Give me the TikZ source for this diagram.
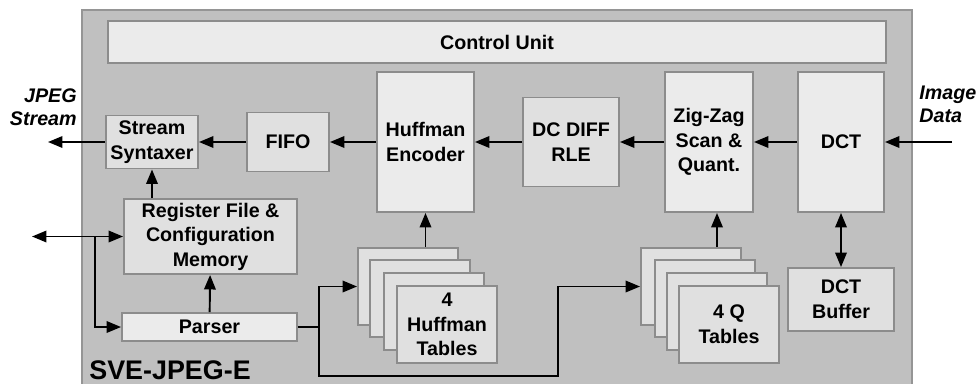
\documentclass[tikz,border=0pt]{standalone}
\usepackage{fontspec}
\setmainfont{Liberation Sans}
\usetikzlibrary{arrows.meta}

\definecolor{chipfill}{HTML}{C0C0C0}
\definecolor{chipline}{HTML}{959595}
\definecolor{boxfill}{HTML}{E0E0E0}
\definecolor{boxlite}{HTML}{EBEBEB}
\definecolor{boxline}{HTML}{8C8C8C}

\begin{document}
\begin{tikzpicture}[x=0.02cm, y=-0.02cm, >={Triangle[length=0.29cm,width=0.23cm]},
  font=\fontsize{11.2}{14}\selectfont\bfseries]

\tikzstyle blk=[draw=boxline, line width=1.1pt, fill=boxfill, align=center, inner sep=0pt]
\tikzstyle lite=[blk, fill=boxlite]
\tikzstyle sig=[line width=1.1pt, ->]
\tikzstyle tab=[blk, minimum width=2cm, minimum height=1.54cm]

\useasboundingbox (0,0) rectangle (979,383);
\draw [draw=chipline, fill=chipfill, line width=1.2pt] (82,10) rectangle (912,400);

\node (ctrl) [lite, minimum width=15.56cm, minimum height=0.84cm] at (497,42) {Control Unit};

\node (syn) [blk, minimum width=1.84cm, minimum height=1.06cm] at (152,142) {Stream\\Syntaxer};
\node (fifo) [blk, minimum width=1.64cm, minimum height=1.18cm] at (288,142) {FIFO};
\node (henc) [lite, minimum width=1.94cm, minimum height=2.8cm] at (425.5,142) {Huffman\\Encoder};
\node (rle) [blk, minimum width=1.92cm, minimum height=1.78cm] at (571,142) {DC DIFF\\RLE};
\node (zz) [lite, minimum width=1.76cm, minimum height=2.8cm] at (709,142) {Zig-Zag\\Scan \&\\Quant.};
\node (dct) [lite, minimum width=1.72cm, minimum height=2.8cm] at (841,142) {DCT};
\node (dctbuf) [blk, minimum width=2.12cm, minimum height=1.26cm] at (841,299.5) {DCT\\Buffer};

\node (reg) [blk, minimum width=3.46cm, minimum height=1.5cm] at (210.5,236.5) {Register File \&\\Configuration\\Memory};
\node (parser) [lite, minimum width=3.5cm, minimum height=0.56cm] at (209.5,327) {Parser};

\foreach \i/\x/\y in {1/408/286.5, 2/420/298.5, 3/434/311.5, 4/447/324.5}
  \node (h\i) [tab] at (\x,\y) {};
\node (htxt) [align=center] at (h4) {4\\Huffman\\Tables};

\foreach \i/\x/\y in {1/691/286.5, 2/705/298.5, 3/717/311.5, 4/729/324.5}
  \node (q\i) [tab] at (\x,\y) {};
\node (qtxt) [align=center] at (q4) {4 Q\\Tables};

\node (jpeg) [anchor=east, align=right, inner sep=0pt, font=\fontsize{11.2}{13}\selectfont\bfseries\itshape] at (77,107) {JPEG\\Stream};
\node (img) [anchor=west, align=left, inner sep=0pt, font=\fontsize{11.2}{13}\selectfont\bfseries\itshape] at (919,104) {Image\\Data};
\node (name) [anchor=base west, inner sep=0pt, font=\fontsize{15.3}{18}\selectfont\bfseries] at (89,379) {SVE-JPEG-E};

\coordinate (imgin) at (952,142);
\coordinate (jpegout) at (48,142);
\coordinate (bus) at (32,236.5);
\coordinate (tap) at (95,236.5);
\coordinate (split) at (319,327);
\coordinate (qturn) at (558,376);

% data path
\draw [sig] (imgin) -- (dct.east);
\draw [sig] (dct) -- (zz);
\draw [sig] (zz) -- (rle);
\draw [sig] (rle) -- (henc);
\draw [sig] (henc) -- (fifo);
\draw [sig] (fifo) -- (syn);
\draw [sig] (syn.west) -- (jpegout);
\draw [sig, <->] (dct) -- (dctbuf);

% tables
\draw [sig] (h1.north -| henc) -- (henc.south);
\draw [sig] ([xshift=0.52cm]q1.north) -- ([xshift=0.52cm]q1.north |- zz.south);

% config
\draw [sig, <->] (bus) -- (reg.west);
\draw [sig] (tap) |- (parser.west);
\draw [sig] (parser) -- (reg);
\draw [sig] (reg.north -| syn) -- (syn.south);
\draw [sig] (parser.east) -- (split) |- (h1.west);
\draw [sig] (split) |- (qturn) |- (q1.west);

\end{tikzpicture}
\end{document}
